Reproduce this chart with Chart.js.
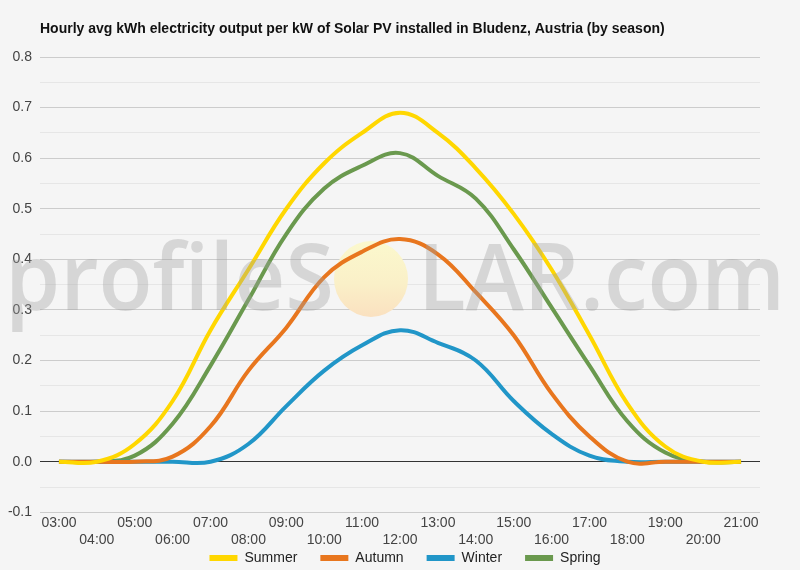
<!DOCTYPE html>
<html>
<head>
<meta charset="utf-8">
<script src="https://cdn.jsdelivr.net/npm/chart.js@4.4.1/dist/chart.umd.min.js"></script>
<style>
  html, body { margin: 0; padding: 0; background: #f5f5f5; }
  #wrap { position: relative; width: 800px; height: 570px; }
</style>
</head>
<body>
<div id="wrap"><canvas id="c" width="800" height="570"></canvas></div>
<script>
const TITLE = 'Hourly avg kWh electricity output per kW of Solar PV installed in Bludenz, Austria (by season)';
const hours = ['03:00','04:00','05:00','06:00','07:00','08:00','09:00','10:00','11:00','12:00','13:00','14:00','15:00','16:00','17:00','18:00','19:00','20:00','21:00'];
const summer = [0, 0, 0.035, 0.12, 0.26, 0.38, 0.50, 0.59, 0.65, 0.69, 0.65, 0.58, 0.49, 0.38, 0.25, 0.115, 0.03, 0, 0];
const autumn = [0, 0, 0, 0.01, 0.07, 0.18, 0.265, 0.365, 0.415, 0.44, 0.41, 0.335, 0.25, 0.135, 0.05, 0, 0, 0, 0];
const winter = [0, 0, 0, 0, 0, 0.035, 0.11, 0.18, 0.23, 0.26, 0.235, 0.2, 0.12, 0.055, 0.012, 0, 0, 0, 0];
const spring = [0, 0, 0.012, 0.075, 0.19, 0.32, 0.45, 0.54, 0.585, 0.61, 0.565, 0.52, 0.42, 0.305, 0.19, 0.08, 0.018, 0, 0];
const seriesNames = ['Summer', 'Autumn', 'Winter', 'Spring'];
const seriesColors = ['#FFD700', '#E8761E', '#2196C8', '#6A994E'];
const yMin = -0.1, yMax = 0.8, yStep = 0.05;

const FONT = 'Liberation Sans, Arial, sans-serif';

const noClip = function () { return undefined; };

const bgPlugin = {
  id: 'bg',
  beforeDraw(chart) {
    const ctx = chart.ctx;
    // let tick labels draw outside their (deliberately narrow) axis boxes
    if (chart.scales.x) chart.scales.x._computeLabelArea = noClip;
    if (chart.scales.y) chart.scales.y._computeLabelArea = noClip;
    ctx.save();
    ctx.fillStyle = '#f5f5f5';
    ctx.fillRect(0, 0, chart.width, chart.height);
    ctx.fillStyle = '#111';
    ctx.font = 'bold 14px ' + FONT;
    ctx.textBaseline = 'middle';
    ctx.textAlign = 'left';
    ctx.fillText(TITLE, chart.chartArea.left, 29);
    ctx.restore();
  },
  beforeDatasetsDraw(chart) {
    const ctx = chart.ctx;
    ctx.save();
    const cx = 371, cy = 279, r = 37;
    const g = ctx.createLinearGradient(0, cy - r, 0, cy + r);
    g.addColorStop(0, 'rgba(251,248,205,1)');
    g.addColorStop(0.55, 'rgba(250,240,200,1)');
    g.addColorStop(1, 'rgba(250,225,192,1)');
    ctx.fillStyle = g;
    ctx.beginPath();
    ctx.ellipse(cx, cy, r, r + 1, 0, 0, Math.PI * 2);
    ctx.fill();
    ctx.restore();
  }
};

const watermarkPlugin = {
  id: 'wm',
  afterDatasetsDraw(chart) {
    const ctx = chart.ctx;
    ctx.save();
    ctx.fillStyle = 'rgba(160,160,160,0.36)';
    ctx.font = '600 93px "Open Sans", sans-serif';
    ctx.textBaseline = 'alphabetic';
    ctx.textAlign = 'left';
    const drawFit = (txt, x0, x1, y) => {
      const w = ctx.measureText(txt).width;
      ctx.save();
      ctx.translate(x0, y);
      ctx.scale((x1 - x0) / w, 1);
      ctx.fillText(txt, 0, 0);
      ctx.restore();
    };
    drawFit('profileS', 5, 334, 310);
    drawFit('LAR.com', 418, 785, 310);
    ctx.restore();
  }
};

const datasets = [summer, autumn, winter, spring].map((d, i) => ({
  label: seriesNames[i],
  data: d,
  borderColor: seriesColors[i],
  backgroundColor: seriesColors[i],
  borderWidth: 4,
  pointRadius: 0,
  pointHoverRadius: 0,
  tension: 0.4,
  fill: false
}));

new Chart(document.getElementById('c'), {
  type: 'line',
  data: { labels: hours, datasets },
  plugins: [bgPlugin, watermarkPlugin],
  options: {
    responsive: false,
    animation: false,
    events: [],
    layout: { padding: { top: 57, right: 0, left: 10, bottom: -5 } },
    scales: {
      x: {
        type: 'category',
        offset: true,
        grid: { display: false, drawTicks: false },
        border: { display: false },
        ticks: {
          autoSkip: false,
          maxRotation: 0,
          minRotation: 0,
          padding: 2,
          color: '#444',
          font: { family: FONT, size: 14, lineHeight: 1.25 },
          callback(v, i) { const l = this.getLabelForValue(v); return i % 2 ? ['', l] : l; }
        },
        afterFit(s) { s.height = 15.7; }
      },
      y: {
        min: yMin, max: yMax,
        grid: {
          drawTicks: false,
          lineWidth: 1,
          color(c) {
            const v = c.tick.value;
            if (Math.abs(v) < 1e-9) return '#333';
            const k = Math.round(v * 100);
            return (k % 10 === 0) ? '#cccccc' : '#e6e6e6';
          }
        },
        border: { display: false },
        ticks: {
          stepSize: yStep,
          padding: 8,
          color: '#444',
          font: { family: FONT, size: 14 },
          callback(v) {
            const k = Math.round(v * 100);
            return (k % 10 === 0) ? (k / 100).toFixed(1) : '';
          }
        },
        afterFit(s) { s.width = 30; }
      },
      yRight: {
        type: 'linear',
        position: 'right',
        display: true,
        grid: { display: false, drawTicks: false },
        border: { display: false },
        ticks: { display: false },
        afterFit(s) { s.width = 40; }
      }
    },
    plugins: {
      title: { display: false },
      tooltip: { enabled: false },
      legend: {
        display: true,
        position: 'bottom',
        labels: {
          boxWidth: 28,
          boxHeight: 6,
          padding: 23,
          color: '#222',
          font: { family: FONT, size: 14 },
          generateLabels(chart) {
            const items = Chart.defaults.plugins.legend.labels.generateLabels(chart);
            items.forEach(it => { it.lineWidth = 0; it.fillStyle = it.strokeStyle; });
            return items;
          }
        }
      }
    }
  }
});
</script>
</body>
</html>
